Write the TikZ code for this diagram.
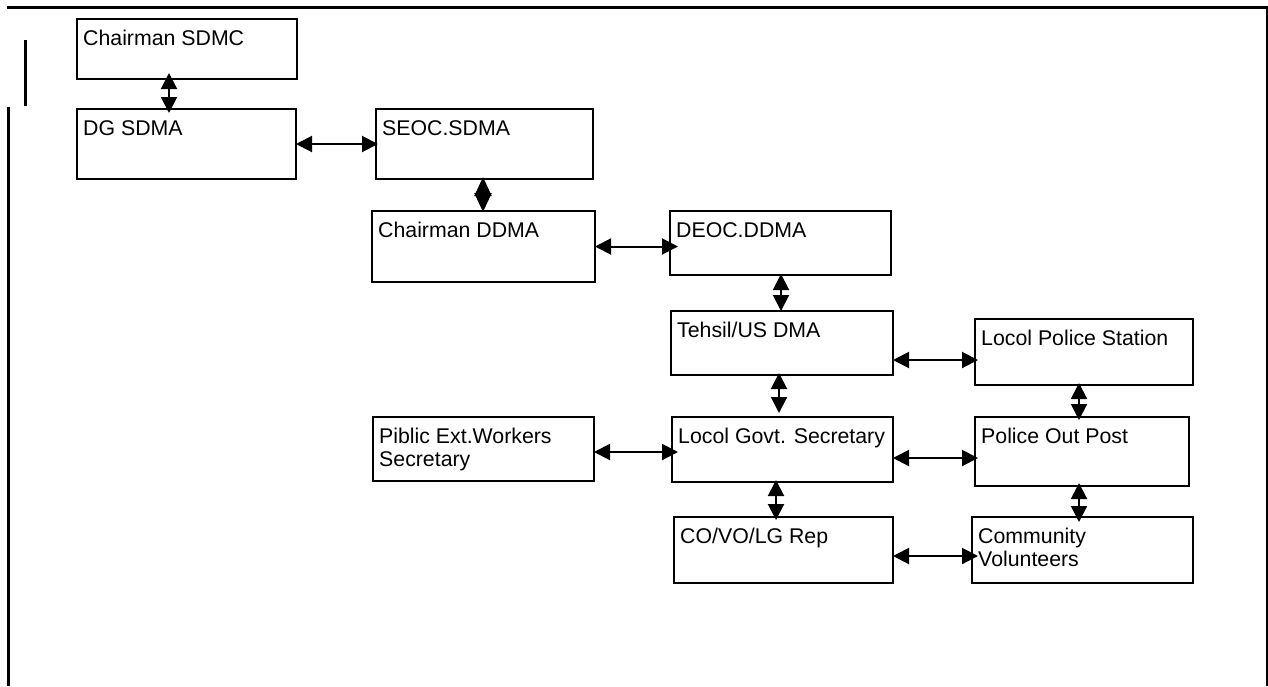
\documentclass[tikz,border=0pt]{standalone}
\usepackage{fontspec}
\setmainfont{Liberation Sans}
\usetikzlibrary{arrows.meta,calc}
\tikzset{
  box/.style={draw, line width=1.8pt, anchor=north west, inner sep=0pt, outer sep=0pt},
  lbl/.style={anchor=north west, inner sep=0pt, xshift=6pt, yshift=-11pt, align=left,
              font=\fontsize{21.3}{23}\selectfont},
  bi/.style={line width=2pt, {Triangle[length=16pt,width=16pt]}-{Triangle[length=16pt,width=16pt]}},
  diam/.style={line width=2pt, {Triangle[length=19pt,width=17pt]}-{Triangle[length=19pt,width=17pt]}},
  frame/.style={line width=3pt},
}
\begin{document}
\begin{tikzpicture}[x=1pt,y=-1pt]
\useasboundingbox (0,0) rectangle (1268,686);
% frame lines
\draw[frame] (7,7) -- (1268,7);
\draw[line width=1.2pt] (1267,7) -- (1267,686);
\draw[frame] (25,40) -- (25,106);
\draw[frame] (8,107) -- (8,686);
% boxes
\node[box, minimum width=220pt, minimum height=60pt, label={[lbl]north west:Chairman SDMC}] (csdmc) at (77,19) {};
\node[box, minimum width=219pt, minimum height=70pt, label={[lbl]north west:DG SDMA}] (dg) at (77,109) {};
\node[box, minimum width=217pt, minimum height=70pt, label={[lbl]north west:SEOC.SDMA}] (seoc) at (376,109) {};
\node[box, minimum width=223pt, minimum height=71pt, label={[lbl]north west:Chairman DDMA}] (cddma) at (372,211) {};
\node[box, minimum width=221pt, minimum height=64pt, label={[lbl]north west:DEOC.DDMA}] (deoc) at (670,211) {};
\node[box, minimum width=222pt, minimum height=64pt, label={[lbl]north west:Tehsil/US DMA}] (teh) at (671,311) {};
\node[box, minimum width=218pt, minimum height=66pt, label={[lbl]north west:Locol Police Station}] (lps) at (975,319) {};
\node[box, minimum width=221pt, minimum height=64pt, label={[lbl]north west:Piblic Ext.Workers\\Secretary}] (pub) at (373,417) {};
\node[box, minimum width=221pt, minimum height=65pt, label={[lbl]north west:Locol Govt. Secretary}] (lgs) at (672,417) {};
\node[box, minimum width=214pt, minimum height=69pt, label={[lbl]north west:Police Out Post}] (pop) at (975,417) {};
\node[box, minimum width=219pt, minimum height=66pt, label={[lbl]north west:CO/VO/LG Rep}] (cvl) at (674,517) {};
\node[box, minimum width=221pt, minimum height=66pt, label={[lbl]north west:Community\\Volunteers}] (cv) at (972,517) {};
% connectors
\draw[bi] ($(csdmc.south)+(-18,-6)$) -- ($(dg.north)+(-17.5,4)$);
\draw[bi] (dg.east) -- ($(seoc.west)+(2,0)$);
\draw[diam] ($(seoc.south)+(-1.5,-2)$) -- ($(cddma.north)+(-0.5,1)$);
\draw[bi] (cddma.east) -- ($(cddma.east -| deoc.west)+(8,0)$);
\draw[bi] ($(deoc.south)+(0.5,-1)$) -- ($(teh.north)+(-1,0)$);
\draw[bi] ($(teh.east)+(0,17)$) -- ($(teh.east -| lps.west)+(3,17)$);
\draw[bi] ($(teh.south)+(-3,-2)$) -- ($(lgs.north)+(-3.5,-4)$);
\draw[bi] ($(lps.south)+(-5,-2)$) -- ($(pop.north)+(-3,3)$);
\draw[bi] ($(pub.east)+(0,3)$) -- ($(pub.east -| lgs.west)+(6,3)$);
\draw[bi] ($(lgs.east)+(0,8.5)$) -- ($(lgs.east -| pop.west)+(3,8.5)$);
\draw[bi] ($(lgs.south)+(-6.5,-2)$) -- ($(cvl.north)+(-7.5,3)$);
\draw[bi] ($(pop.south)+(-3,-3)$) -- ($(cv.north)+(-3.5,5)$);
\draw[bi] ($(cvl.east)+(0,6)$) -- ($(cvl.east -| cv.west)+(6,6)$);
\end{tikzpicture}
\end{document}
